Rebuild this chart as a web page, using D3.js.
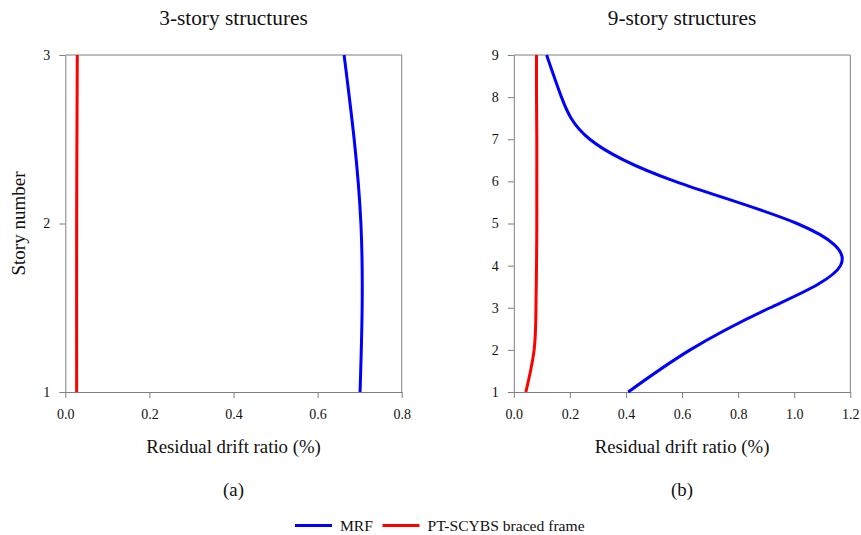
<!DOCTYPE html>
<html>
<head>
<meta charset="utf-8">
<script src="https://cdn.jsdelivr.net/npm/d3@7"></script>
<style>
  html, body { margin: 0; padding: 0; background: #fff; }
  svg { display: block; }
  text { font-family: "Liberation Serif", "Times New Roman", serif; fill: #111; }
</style>
</head>
<body>
<svg id="chart" width="861" height="535"></svg>
<script>
// Residual drift ratio (%) per story
const stories3 = [1, 2, 3];
const mrf3 = [0.701, 0.703, 0.663];
const scybs3 = [0.027, 0.027, 0.0285];

const stories9 = [1, 2, 3, 4, 5, 6, 7, 8, 9];
const mrf9 = [0.408, 0.629, 0.914, 1.165, 1.01, 0.575, 0.271, 0.170, 0.117];
const scybs9 = [0.043, 0.0725, 0.079, 0.081, 0.082, 0.082, 0.082, 0.081, 0.081];

const xTicks3 = [0, 0.2, 0.4, 0.6, 0.8];
const xTicks9 = [0, 0.2, 0.4, 0.6, 0.8, 1.0, 1.2];

const seriesNames = ["MRF", "PT-SCYBS braced frame"];
const seriesColors = ["#0000ff", "#ff0000"];

const panels = [
  { title: "3-story structures", tag: "(a)", stories: stories3, series: [mrf3, scybs3],
    xMax: 0.8, xTicks: xTicks3, left: 65.3, right: 401.7, yLabel: "Story number" },
  { title: "9-story structures", tag: "(b)", stories: stories9, series: [mrf9, scybs9],
    xMax: 1.2, xTicks: xTicks9, left: 513.8, right: 850.3, yLabel: null }
];

const plotTop = 55, plotBottom = 392;
const axisColor = "#7f7f7f";
const svg = d3.select("#chart");

panels.forEach(p => {
  const g = svg.append("g");
  const x = d3.scaleLinear().domain([0, p.xMax]).range([p.left, p.right]);
  const y = d3.scaleLinear().domain([d3.min(p.stories), d3.max(p.stories)]).range([plotBottom, plotTop]);

  // frame: top and right edges
  g.append("path")
    .attr("d", `M${p.left},${plotTop}H${p.right}V${plotBottom}`)
    .attr("fill", "none").attr("stroke", axisColor).attr("stroke-width", 1);

  const xAxis = g.append("g").attr("transform", `translate(0,${plotBottom})`)
    .call(d3.axisBottom(x).tickValues(p.xTicks).tickFormat(d3.format(".1f"))
      .tickSizeInner(6).tickSizeOuter(0).tickPadding(11));
  const yAxis = g.append("g").attr("transform", `translate(${p.left},0)`)
    .call(d3.axisLeft(y).tickValues(p.stories).tickFormat(d3.format("d"))
      .tickSizeInner(6).tickSizeOuter(0).tickPadding(9));

  [xAxis, yAxis].forEach(a => {
    a.attr("font-family", null);
    a.selectAll("path, line").attr("stroke", axisColor);
    a.selectAll("text").attr("font-size", 14).attr("fill", "#111")
      .style("font-family", "'Liberation Serif', 'Times New Roman', serif");
  });

  // profiles (natural spline through story values)
  const line = d3.line()
    .x(d => x(d[0]))
    .y(d => y(d[1]))
    .curve(d3.curveNatural);

  p.series.forEach((vals, i) => {
    const pts = p.stories.map((s, k) => [vals[k], s]);
    g.append("path")
      .attr("d", line(pts))
      .attr("fill", "none")
      .attr("stroke", seriesColors[i])
      .attr("stroke-width", 3)
      .attr("stroke-linejoin", "round");
  });

  const cx = (p.left + p.right) / 2;
  g.append("text").attr("x", cx).attr("y", 25).attr("text-anchor", "middle")
    .attr("font-size", 21.3).text(p.title);
  g.append("text").attr("x", cx).attr("y", 453).attr("text-anchor", "middle")
    .attr("font-size", 18.8).text("Residual drift ratio (%)");
  g.append("text").attr("x", cx).attr("y", 496).attr("text-anchor", "middle")
    .attr("font-size", 18.8).text(p.tag);

  if (p.yLabel) {
    g.append("text")
      .attr("transform", `translate(25,${(plotTop + plotBottom) / 2}) rotate(-90)`)
      .attr("text-anchor", "middle")
      .attr("font-size", 19).text(p.yLabel);
  }
});

// legend
const legend = svg.append("g").attr("transform", "translate(295,525.5)");
const legendX = [0, 87.5];
seriesNames.forEach((name, i) => {
  const item = legend.append("g").attr("transform", `translate(${legendX[i]},0)`);
  item.append("line").attr("x1", 0).attr("x2", 37).attr("y1", 0).attr("y2", 0)
    .attr("stroke", seriesColors[i]).attr("stroke-width", 3);
  item.append("text").attr("x", 45).attr("y", 5).attr("font-size", 15.6).text(name);
});
</script>
</body>
</html>
